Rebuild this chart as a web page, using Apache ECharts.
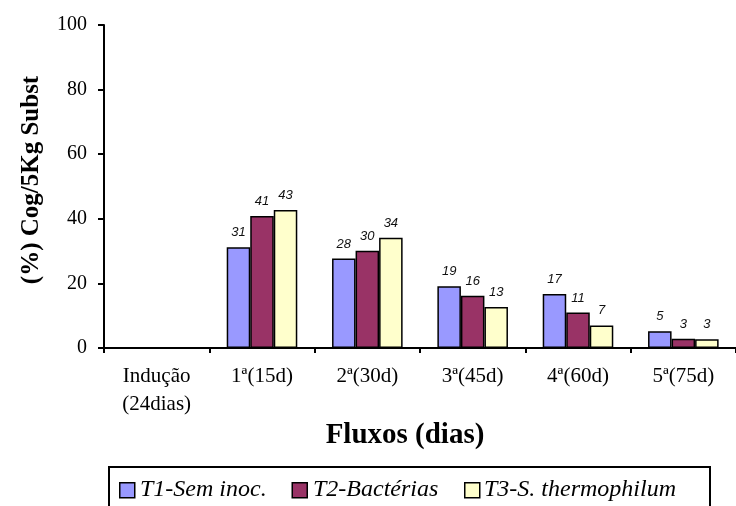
<!DOCTYPE html>
<html>
<head>
<meta charset="utf-8">
<script src="https://cdn.jsdelivr.net/npm/echarts@6/dist/echarts.min.js"></script>
<style>
  html, body { margin: 0; padding: 0; background: #fff; }
  #main { width: 736px; height: 506px; }
</style>
</head>
<body>
<div id="main"></div>
<script>
var categories = ['Indução\n(24dias)', '1ª(15d)', '2ª(30d)', '3ª(45d)', '4ª(60d)', '5ª(75d)'];
var seriesNames = ['T1-Sem inoc.', 'T2-Bactérias', 'T3-S. thermophilum'];
var t1 = [null, 31.2, 27.7, 19.1, 16.7, 5.2];
var t2 = [null, 40.9, 30.1, 16.2, 11.0, 2.9];
var t3 = [null, 42.7, 34.1, 12.7, 7.0, 2.7];
var colors = ['#9999ff', '#993366', '#ffffcc'];
var yTicks = { min: 0, max: 100, interval: 20 };

var serif = 'Liberation Serif';
var myChart = echarts.init(document.getElementById('main'));

function makeSeries(name, data, color) {
    return {
        name: name,
        type: 'bar',
        data: data,
        barGap: '0%',
        barCategoryGap: '33%',
        itemStyle: { color: color, borderColor: '#000', borderWidth: 1.5 },
        label: {
            show: true,
            position: 'top',
            distance: 8,
            fontFamily: 'Liberation Sans',
            fontStyle: 'italic',
            fontSize: 13,
            color: '#111',
            formatter: function (p) { return Math.round(p.value); }
        }
    };
}

// legend labels drawn next to the legend swatches
var legendTextX = [140, 313, 484];
function legendText(i) {
    return {
        type: 'text',
        x: legendTextX[i], y: 490,
        style: {
            text: seriesNames[i],
            fontFamily: serif,
            fontStyle: 'italic',
            fontSize: 24,
            fill: '#000',
            align: 'left',
            verticalAlign: 'middle'
        }
    };
}

var option = {
    animation: false,
    backgroundColor: '#fff',
    grid: { left: 104, top: 25, right: -5, bottom: 158 },
    xAxis: {
        type: 'category',
        data: categories,
        axisLine: { lineStyle: { color: '#000', width: 2 } },
        axisTick: { show: true, length: 5, lineStyle: { color: '#000', width: 2 } },
        axisLabel: {
            fontFamily: serif,
            fontSize: 21,
            lineHeight: 28,
            color: '#000',
            margin: 14,
            interval: 0
        }
    },
    yAxis: {
        type: 'value',
        min: yTicks.min,
        max: yTicks.max,
        interval: yTicks.interval,
        axisLine: { show: true, lineStyle: { color: '#000', width: 2 } },
        axisTick: { show: true, length: 6, lineStyle: { color: '#000', width: 2 } },
        splitLine: { show: false },
        axisLabel: { fontFamily: serif, fontSize: 20, color: '#000', margin: 17 }
    },
    legend: {
        left: 119,
        top: 482,
        icon: 'rect',
        itemWidth: 15,
        itemHeight: 15,
        itemGap: 156,
        padding: 0,
        itemStyle: { borderColor: '#000', borderWidth: 1.5 },
        formatter: function () { return ''; },
        data: seriesNames
    },
    graphic: [
        {
            type: 'rect',
            shape: { x: 109, y: 467, width: 601, height: 60 },
            style: { fill: null, stroke: '#000', lineWidth: 2 }
        },
        legendText(0),
        legendText(1),
        legendText(2),
        {
            type: 'text',
            x: 405, y: 436,
            style: {
                text: 'Fluxos (dias)',
                font: 'bold 29px "Liberation Serif"',
                fill: '#000',
                align: 'center',
                verticalAlign: 'middle'
            }
        },
        {
            type: 'text',
            x: 32, y: 180,
            rotation: Math.PI / 2,
            style: {
                text: '(%) Cog/5Kg Subst',
                font: 'bold 25px "Liberation Serif"',
                fill: '#000',
                align: 'center',
                verticalAlign: 'middle'
            }
        }
    ],
    series: [
        makeSeries(seriesNames[0], t1, colors[0]),
        makeSeries(seriesNames[1], t2, colors[1]),
        makeSeries(seriesNames[2], t3, colors[2])
    ]
};

myChart.setOption(option);
</script>
</body>
</html>
